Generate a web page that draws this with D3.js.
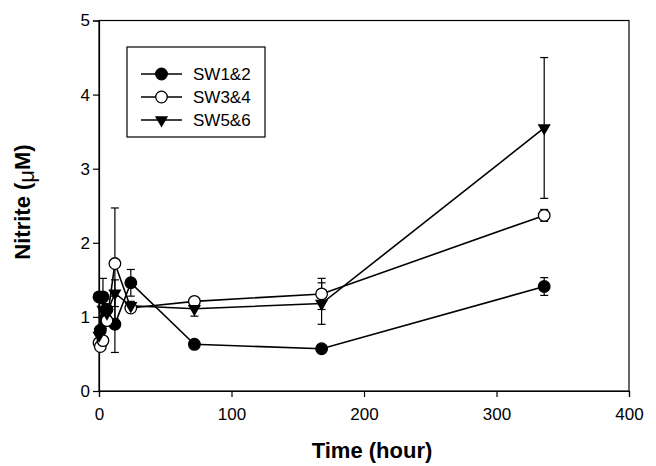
<!DOCTYPE html>
<html>
<head>
<meta charset="utf-8">
<script src="https://cdn.jsdelivr.net/npm/d3@7"></script>
<style>
  body { margin: 0; background: #fff; }
  svg { display: block; font-family: "Liberation Sans", Arial, sans-serif; }
</style>
</head>
<body>
<svg width="656" height="466"></svg>
<script>
// sampling times (hour)
const times = [0, 1, 3, 6, 12, 24, 72, 168, 336];

const sw12 = [1.27, 0.82, 1.27, 1.1, 0.9, 1.46, 0.63, 0.57, 1.41];
const sw12Err = [0.05, 0.05, 0.25, 0.06, 0.38, 0.18, 0.03, 0.04, 0.12];

const sw34 = [0.65, 0.6, 0.68, 0.95, 1.72, 1.12, 1.21, 1.31, 2.37];
const sw34Err = [0.04, 0.04, 0.05, 0.06, 0.75, 0.04, 0.04, 0.21, 0.08];

const sw56 = [0.75, 0.8, 1.1, 1.05, 1.32, 1.15, 1.11, 1.18, 3.55];
const sw56Err = [0.05, 0.06, 0.08, 0.1, 0.18, 0.06, 0.1, 0.28, 0.95];

const seriesNames = ["SW1&2", "SW3&4", "SW5&6"];
const xTicks = [0, 100, 200, 300, 400];
const yTicks = [0, 1, 2, 3, 4, 5];

const series = [
  {name: seriesNames[0], vals: sw12, err: sw12Err, marker: "filled"},
  {name: seriesNames[1], vals: sw34, err: sw34Err, marker: "open"},
  {name: seriesNames[2], vals: sw56, err: sw56Err, marker: "tri"}
];

const pLeft = 99, pRight = 629, pTop = 20.5, pBottom = 391;
const svg = d3.select("svg");

const x = d3.scaleLinear().domain([0, 400]).range([pLeft, pRight]);
const y = d3.scaleLinear().domain([0, 5]).range([pBottom, pTop]);

// frame
svg.append("rect")
  .attr("x", pLeft).attr("y", pTop)
  .attr("width", pRight - pLeft).attr("height", pBottom - pTop)
  .attr("fill", "none").attr("stroke", "#000").attr("stroke-width", 1.2);

const xAxis = svg.append("g")
  .attr("transform", `translate(0,${pBottom})`)
  .call(d3.axisBottom(x).tickValues(xTicks).tickFormat(d3.format("d"))
    .tickSize(6).tickPadding(11));
const yAxis = svg.append("g")
  .attr("transform", `translate(${pLeft},0)`)
  .call(d3.axisLeft(y).tickValues(yTicks).tickFormat(d3.format("d"))
    .tickSize(6).tickPadding(3));

[xAxis, yAxis].forEach(g => {
  g.select(".domain").attr("stroke-width", 1.2);
  g.selectAll(".tick line").attr("stroke-width", 1.2);
  g.selectAll("text")
    .attr("font-family", "Liberation Sans, Arial, sans-serif")
    .attr("font-size", 17).attr("fill", "#000");
});

const line = d3.line().x(d => x(d.t)).y(d => y(d.v));
const tri = d3.symbol().type(d3.symbolTriangle).size(75);

function drawMarker(g, type, cx, cy) {
  if (type === "tri") {
    g.append("path").attr("d", tri())
      .attr("transform", `translate(${cx},${cy}) rotate(180)`)
      .attr("fill", "#000");
  } else {
    g.append("circle").attr("cx", cx).attr("cy", cy).attr("r", 5.8)
      .attr("fill", type === "filled" ? "#000" : "#fff")
      .attr("stroke", "#000").attr("stroke-width", 1.3);
  }
}

// error bars first, lines, then markers
series.forEach(s => {
  const pts = times.map((t, i) => ({t: t, v: s.vals[i], e: s.err[i]}));
  const g = svg.append("g");
  pts.forEach(p => {
    const cx = x(p.t);
    g.append("line").attr("x1", cx).attr("x2", cx)
      .attr("y1", y(p.v - p.e)).attr("y2", y(p.v + p.e))
      .attr("stroke", "#000").attr("stroke-width", 1.2);
    [p.v - p.e, p.v + p.e].forEach(v => {
      g.append("line").attr("x1", cx - 4).attr("x2", cx + 4)
        .attr("y1", y(v)).attr("y2", y(v))
        .attr("stroke", "#000").attr("stroke-width", 1.2);
    });
  });
  g.append("path").datum(pts).attr("d", line)
    .attr("fill", "none").attr("stroke", "#000").attr("stroke-width", 1.6);
  s.pts = pts;
});
series.forEach(s => {
  const g = svg.append("g");
  s.pts.forEach(p => drawMarker(g, s.marker, x(p.t), y(p.v)));
});

// legend
const lg = svg.append("g");
lg.append("rect").attr("x", 127).attr("y", 47).attr("width", 138).attr("height", 90)
  .attr("fill", "#fff").attr("stroke", "#000").attr("stroke-width", 1.2);
series.forEach((s, i) => {
  const ly = 74 + i * 23;
  lg.append("line").attr("x1", 141).attr("x2", 182).attr("y1", ly).attr("y2", ly)
    .attr("stroke", "#000").attr("stroke-width", 1.4);
  drawMarker(lg, s.marker, 161.5, ly);
  lg.append("text").attr("x", 193).attr("y", ly + 6)
    .attr("font-size", 17).text(s.name);
});

// axis titles
svg.append("text").attr("x", 372).attr("y", 458)
  .attr("text-anchor", "middle").attr("font-size", 22).attr("font-weight", "bold")
  .text("Time (hour)");

const yt = svg.append("text")
  .attr("transform", "translate(30,202) rotate(-90)")
  .attr("text-anchor", "middle").attr("font-size", 22).attr("font-weight", "bold");
yt.append("tspan").text("Nitrite (");
yt.append("tspan").attr("dy", 4).attr("font-weight", "normal").text("μ");
yt.append("tspan").attr("dy", -4).text("M)");
</script>
</body>
</html>
